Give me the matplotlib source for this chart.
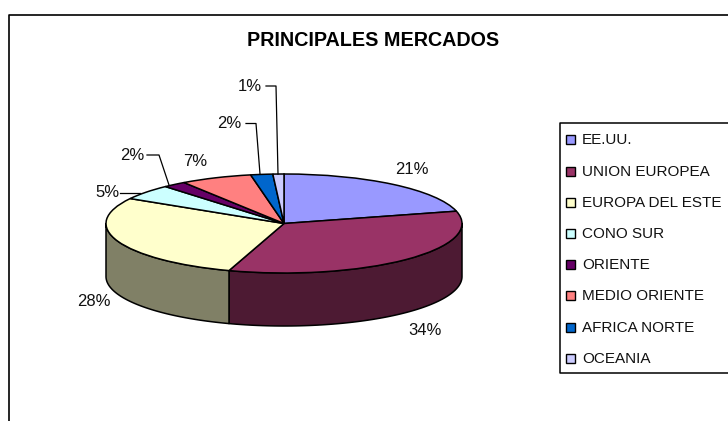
import numpy as np
import matplotlib
matplotlib.use("Agg")
import matplotlib.pyplot as plt
from matplotlib.patches import Wedge, Rectangle
from matplotlib.transforms import Affine2D

plt.rcParams["font.family"] = ["Liberation Sans", "DejaVu Sans"]

title = "PRINCIPALES MERCADOS"
markets = ["EE.UU.", "UNION EUROPEA", "EUROPA DEL ESTE", "CONO SUR",
           "ORIENTE", "MEDIO ORIENTE", "AFRICA NORTE", "OCEANIA"]
shares = [21, 34, 28.4, 5.0, 2.1, 6.5, 2.0, 1.0]
pct_labels = ["21%", "34%", "28%", "5%", "2%", "7%", "2%", "1%"]
colors = ["#9999FF", "#993366", "#FFFFCC", "#CCFFFF",
          "#660066", "#FF8080", "#0066CC", "#CCCCFF"]
side_colors = ["#4D4D80", "#4D1A33", "#808066", "#668080",
               "#330033", "#804040", "#003366", "#666680"]

# label centres and leader lines, in image pixels
label_pos = [(412, 169.5), (425, 330.5), (94, 302), (107, 192.5),
             (132, 155.5), (195, 161.5), (229, 123.5), (250, 86.5)]
leaders = [None, None, None,
           [(120, 192.5), (140, 192.5)],
           [(147, 155), (159, 155), (169, 185)],
           None,
           [(246, 123.5), (256, 123.5), (260, 174)],
           [(266, 86), (276, 86), (278, 174)]]

cx, cy = 284, 223.5
rx, ry = 178, 49.5
depth = 53

fig = plt.figure(figsize=(7.28, 4.21), dpi=100)
ax = fig.add_axes([0, 0, 1, 1])
ax.set_xlim(0, 728)
ax.set_ylim(421, 0)
ax.axis("off")

# outer chart frame, runs off the right and bottom of the image
ax.plot([9, 9, 728], [421, 14.5, 14.5], color="black", lw=1.2, solid_capstyle="butt")

ax.text(373, 41, title, ha="center", va="center", fontsize=14.2, fontweight="bold")

# angle measured clockwise from the top of the pie
cum = np.concatenate([[0], np.cumsum(shares)]) / sum(shares) * 360

# side wall, only the front half (90 to 270) shows
for i in range(len(shares)):
    a = max(cum[i], 90)
    b = min(cum[i + 1], 270)
    if b <= a:
        continue
    t = np.radians(np.linspace(a, b, 80))
    x = cx + rx * np.sin(t)
    y = cy - ry * np.cos(t)
    ax.fill(np.r_[x, x[::-1]], np.r_[y, y[::-1] + depth],
            facecolor=side_colors[i], edgecolor="black", lw=1.1, joinstyle="round")

# top face: circle wedges squashed into an ellipse
ellipse = Affine2D().scale(rx, -ry).translate(cx, cy) + ax.transData
for i in range(len(shares)):
    ax.add_patch(Wedge((0, 0), 1, 90 - cum[i + 1], 90 - cum[i], transform=ellipse,
                       facecolor=colors[i], edgecolor="black", lw=1.1))

for i in range(len(shares)):
    ax.text(label_pos[i][0], label_pos[i][1], pct_labels[i], ha="center", va="center",
            fontsize=12, color="#111111")
    if leaders[i]:
        ax.plot([p[0] for p in leaders[i]], [p[1] for p in leaders[i]], color="black", lw=0.9)

# legend box
ax.plot([728, 560, 560, 728], [123, 123, 372.5, 372.5], color="black", lw=1.1, solid_capstyle="butt")
legend_y = [139, 171, 202, 233, 264, 295, 327, 358]
for i in range(len(markets)):
    ax.add_patch(Rectangle((566, legend_y[i] - 4.5), 9, 9, facecolor=colors[i],
                           edgecolor="black", lw=1.0))
    ax.text(582, legend_y[i] + 0.8, markets[i], ha="left", va="center", fontsize=11, color="#111111")

fig.savefig("out.png", dpi=100)
